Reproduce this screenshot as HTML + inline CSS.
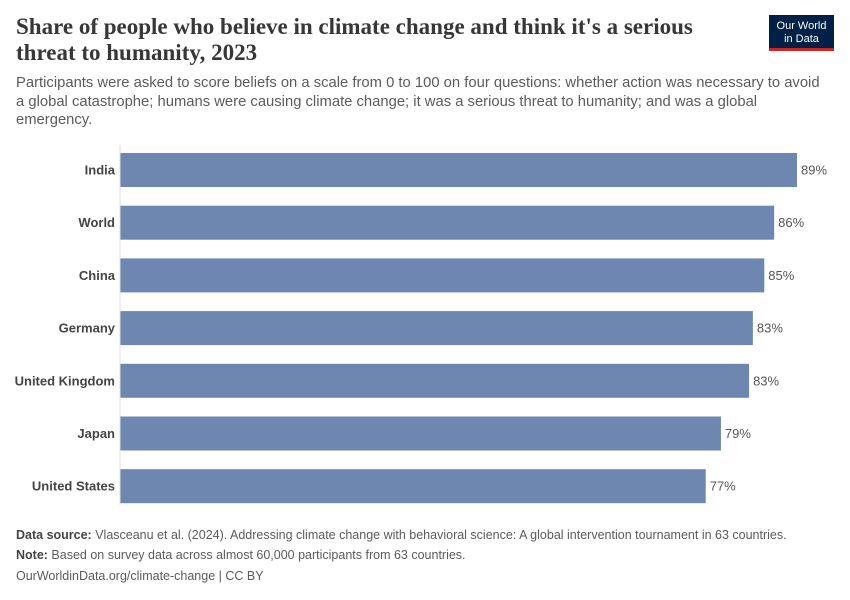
<!DOCTYPE html>
<html><head><meta charset="utf-8">
<style>
body{margin:0;background:#fff;font-family:"Liberation Sans",sans-serif;}
#wrap{position:relative;width:850px;height:600px;overflow:hidden;}
.title{position:absolute;left:16px;top:14px;font-family:"Liberation Serif",serif;font-size:23px;line-height:26px;color:#373737;width:690px;font-weight:bold;}
.sub{position:absolute;left:16px;top:74px;font-size:14.8px;line-height:18.5px;color:#5b5b5b;width:812px;}
.logo{position:absolute;left:769px;top:15px;width:65px;height:36px;background:#002147;color:#fff;font-size:11px;line-height:12.5px;text-align:center;padding-top:5px;box-sizing:border-box;border-bottom:3px solid #ce261e;}
.foot{position:absolute;left:16px;font-size:12.5px;color:#5b5b5b;}
.foot b{color:#444;}
</style></head><body>
<div id="wrap">
<div class="title">Share of people who believe in climate change and think it's a serious threat to humanity, 2023</div>
<div class="logo">Our World<br>in Data</div>
<div class="sub">Participants were asked to score beliefs on a scale from 0 to 100 on four questions: whether action was necessary to avoid a global catastrophe; humans were causing climate change; it was a serious threat to humanity; and was a global emergency.</div>
<svg id="plot" width="850" height="600" style="position:absolute;left:0;top:0"></svg>
<div class="foot" style="top:528px"><b>Data source:</b> Vlasceanu et al. (2024). Addressing climate change with behavioral science: A global intervention tournament in 63 countries.</div>
<div class="foot" style="top:548px"><b>Note:</b> Based on survey data across almost 60,000 participants from 63 countries.</div>
<div class="foot" style="top:569px">OurWorldinData.org/climate-change | CC BY</div>
</div>
<script>
const categories=["India","World","China","Germany","United Kingdom","Japan","United States"];
const values=[89,86,84.7,83.2,82.7,79,77];
const labels=["89%","86%","85%","83%","83%","79%","77%"];
const svg=document.getElementById('plot');
const NS='http://www.w3.org/2000/svg';
const x0=120,scale=(797-120)/89;
function xs(v){return x0+v*scale;}
function ys(i){return 153+i*52.7;}
const bh=34;
const ax=document.createElementNS(NS,'line');
ax.setAttribute('x1',x0);ax.setAttribute('x2',x0);ax.setAttribute('y1',145);ax.setAttribute('y2',505);
ax.setAttribute('stroke','#ddd');ax.setAttribute('stroke-width','1');


svg.appendChild(ax);
categories.forEach((c,i)=>{
  const r=document.createElementNS(NS,'rect');
  r.setAttribute('x',x0+0.5);r.setAttribute('y',ys(i));r.setAttribute('width',xs(values[i])-x0-0.5);r.setAttribute('height',bh);
  r.setAttribute('fill','#6d87b0');
  
  
  svg.appendChild(r);
  const t=document.createElementNS(NS,'text');
  t.setAttribute('x',115);t.setAttribute('y',ys(i)+bh/2+4.5);t.setAttribute('text-anchor','end');
  t.setAttribute('font-size','13');t.setAttribute('font-weight','bold');t.setAttribute('fill','#444');
  t.setAttribute('font-family','Liberation Sans, sans-serif');
  t.textContent=c;
  
  
  svg.appendChild(t);
  const v=document.createElementNS(NS,'text');
  v.setAttribute('x',xs(values[i])+4);v.setAttribute('y',ys(i)+bh/2+4.5);
  v.setAttribute('font-size','13');v.setAttribute('fill','#555');
  v.setAttribute('font-family','Liberation Sans, sans-serif');
  v.textContent=labels[i];
  
  
  svg.appendChild(v);
});
</script>
</body></html>
